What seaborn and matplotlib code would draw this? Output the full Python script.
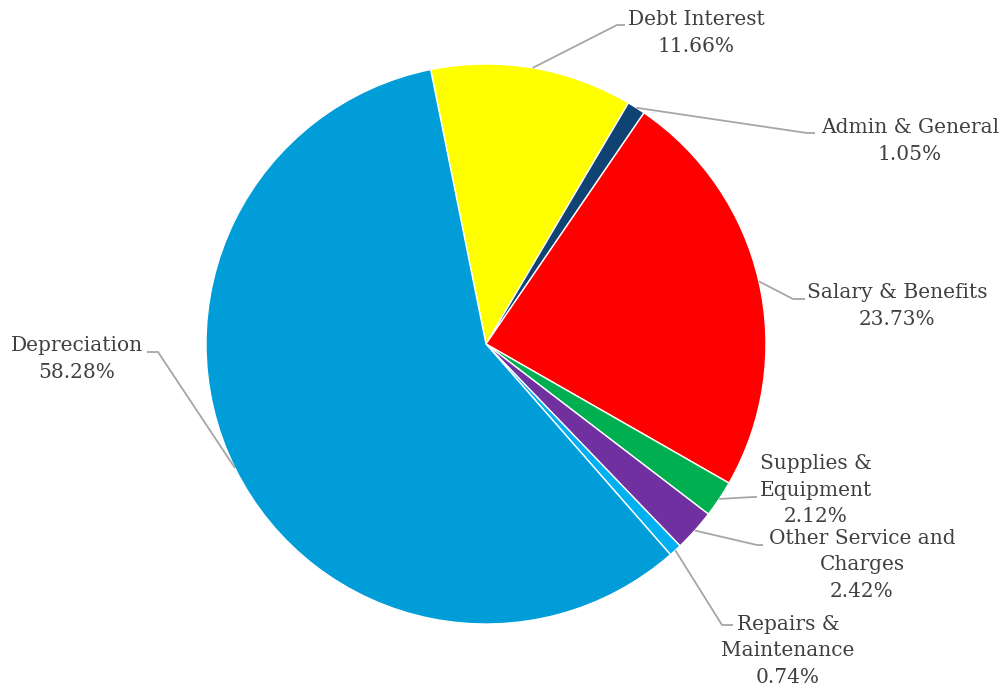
import numpy as np
import matplotlib
matplotlib.use("Agg")
import matplotlib.pyplot as plt
import seaborn as sns

# Expense breakdown (percent of total), in clockwise order
categories = ["Debt Interest", "Admin & General", "Salary & Benefits",
              "Supplies & Equipment", "Other Service and Charges",
              "Repairs & Maintenance", "Depreciation"]
shares = [11.66, 1.05, 23.73, 2.12, 2.42, 0.74, 58.28]
label_text = ["Debt Interest", "Admin & General", "Salary & Benefits",
              "Supplies &\nEquipment", "Other Service and\nCharges",
              "Repairs &\nMaintenance", "Depreciation"]
colors = ["#FFFF00", "#0E4374", "#FF0000", "#00B050", "#7030A0",
          "#00B0F0", "#009DD9"]

sns.set_theme(style="white")
plt.rcParams["font.family"] = ["DejaVu Serif"]

W, H, DPI = 1003, 694, 100
CX, CY, R = 486, 344, 280  # pie centre and radius in pixels


def px(x, y):
    """Pixel position (from top-left) to data coordinates of the pie axes."""
    return (x - CX) / R, (CY - y) / R


fig = plt.figure(figsize=(W / DPI, H / DPI), dpi=DPI)
ax = fig.add_axes([0, 0, 1, 1])
wedges, _ = ax.pie(shares, colors=colors, startangle=101.4, counterclock=False,
                   radius=1.0, center=(0, 0),
                   wedgeprops=dict(edgecolor="white", linewidth=1.0))
ax.set_xlim(-CX / R, (W - CX) / R)
ax.set_ylim(-(H - CY) / R, CY / R)
ax.set_aspect("auto")
ax.axis("off")

# label block centres and leader-line elbows (pixels)
label_pos = [(696, 33), (910, 141), (897, 306), (816, 490),
             (862, 565), (788, 651), (77, 359)]
elbows = [((617, 25), (625, 25)), ((807, 133), (815, 133)),
          ((793, 299), (805, 299)), ((753, 497), (757, 497)),
          ((757, 545), (763, 545)), ((722, 625), (733, 625)),
          ((158, 352), (147, 352))]

for w, name, val, pos, (elb, end) in zip(wedges, label_text, shares,
                                         label_pos, elbows):
    mid = np.deg2rad((w.theta1 + w.theta2) / 2)
    sx, sy = np.cos(mid), np.sin(mid)
    ex, ey = px(*elb)
    tx, ty = px(*end)
    ax.plot([sx, ex, tx], [sy, ey, ty], color="#A6A6A6", lw=1.3,
            solid_capstyle="butt", zorder=1)
    lx, ly = px(*pos)
    ax.text(lx, ly, f"{name}\n{val:.2f}%", ha="center", va="center",
            fontsize=14.5, color="#404040", linespacing=1.47)

fig.savefig("out.png", dpi=DPI, facecolor="white")
